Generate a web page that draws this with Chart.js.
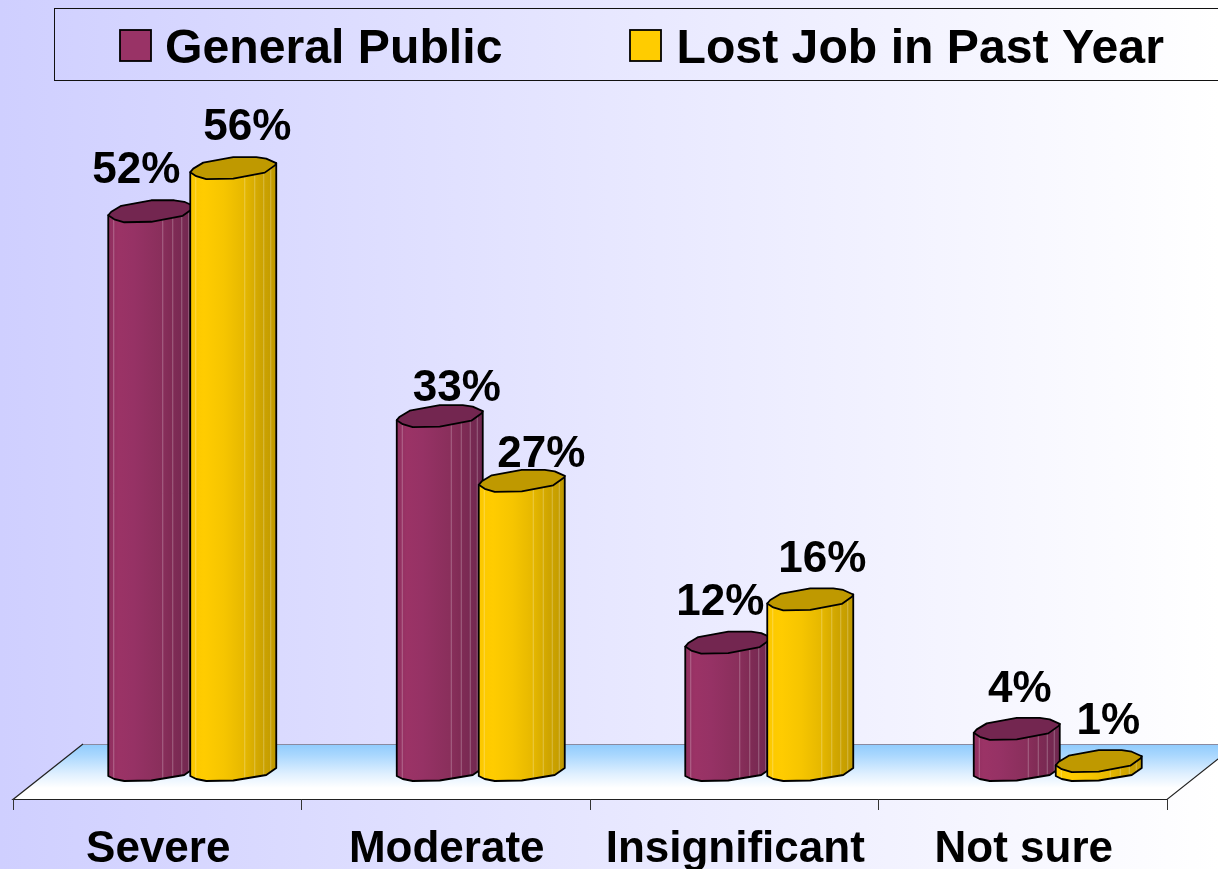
<!DOCTYPE html>
<html>
<head>
<meta charset="utf-8">
<style>html,body{margin:0;padding:0;background:#fff;overflow:hidden}canvas{display:block}</style>
<script src="https://cdn.jsdelivr.net/npm/chart.js@4"></script>
</head>
<body>
<canvas id="c" width="1218" height="869"></canvas>
<script>
const categories = ['Severe', 'Moderate', 'Insignificant', 'Not sure'];
const generalPublic = [52, 33, 12, 4];
const lostJob = [56, 27, 16, 1];
const seriesNames = ['General Public', 'Lost Job in Past Year'];

const FONT = '"Liberation Sans", Arial, sans-serif';
const SHIFT = 33; // perspective offset of the axis relative to the bars

const shades = [
  {body: [[0,'#8f2f5f'],[10,'#9b3366'],[26,'#963265'],[52,'#8a2f5c'],[64,'#802b55'],[86,'#6f2850']], cap: '#732650'},
  {body: [[0,'#fbc800'],[14,'#ffcc00'],[34,'#f6c500'],[54,'#e6b800'],[70,'#cfa500'],[86,'#bf9900']], cap: '#bf9900'}
];
const legendSwatches = ['#993366', '#ffcc00'];
const labelNudge = [
  [[-15,-28],[17,-15],[-8,-28],[3,-27]],
  [[14,-28],[19.5,-14],[12,-27],[9.5,-27]]
];
const seams = [5, 54, 64, 73, 80];
const topArc = [[0,4],[3,0.5],[13,-5.5],[43,-11],[66,-11],[76,-9.5],[86,-5]];
const lowArc = [[86,-5],[85,-3],[74.5,4.5],[43,10.5],[16,11],[6,8],[0,4]];
const baseArc = [[86,-4],[76,3],[43,8.5],[16,9],[6,7],[0,4]];

function trace(path, pts, x, y, first) {
  pts.forEach((p, i) => {
    if (i === 0 && first) path.moveTo(x + p[0], y + p[1]);
    else path.lineTo(x + p[0], y + p[1]);
  });
}

function drawCylinder(ctx, left, V, zero, shade) {
  const w = 86;
  ctx.save();
  const body = new Path2D();
  body.moveTo(left, V + 4);
  body.lineTo(left + w, V - 5);
  trace(body, baseArc, left, zero, false);
  body.closePath();
  ctx.save();
  ctx.clip(body);
  const g = ctx.createLinearGradient(left, 0, left + w, 0);
  shade.body.forEach(s => g.addColorStop(s[0] / w, s[1]));
  ctx.fillStyle = g;
  ctx.fillRect(left, V - 20, w, zero - V + 40);
  ctx.strokeStyle = 'rgba(255,255,255,0.28)';
  ctx.lineWidth = 1;
  seams.forEach(s => {
    ctx.beginPath();
    ctx.moveTo(left + s + 0.5, V - 20);
    ctx.lineTo(left + s + 0.5, zero + 20);
    ctx.stroke();
  });
  ctx.restore();
  ctx.strokeStyle = '#000';
  ctx.lineWidth = 1.8;
  ctx.lineJoin = 'round';
  ctx.stroke(body);
  const cap = new Path2D();
  trace(cap, topArc, left, V, true);
  trace(cap, lowArc, left, V, false);
  cap.closePath();
  ctx.fillStyle = shade.cap;
  ctx.fill(cap);
  ctx.stroke(cap);
  ctx.restore();
}

const scenePlugin = {
  id: 'scene',
  beforeDraw(chart) {
    const ctx = chart.ctx;
    const g = ctx.createLinearGradient(0, 0, chart.width, 0);
    g.addColorStop(0, '#cfcfff');
    g.addColorStop(1, '#ffffff');
    ctx.save();
    ctx.fillStyle = g;
    ctx.fillRect(0, 0, chart.width, chart.height);
    ctx.restore();
  },
  beforeDatasetsDraw(chart) {
    const ctx = chart.ctx, xs = chart.scales.x, ys = chart.scales.y;
    const zero = ys.getPixelForValue(0);
    const step = xs.getPixelForTick(1) - xs.getPixelForTick(0);
    const x0 = xs.getPixelForTick(0) - step / 2 - SHIFT;
    const x1 = x0 + step * categories.length;
    const front = zero + 27, back = zero - 28, depth = 70;

    // floor
    ctx.save();
    const fg = ctx.createLinearGradient(0, back, 0, front);
    fg.addColorStop(0, '#8fcbfd');
    fg.addColorStop(0.2, '#a9d7fe');
    fg.addColorStop(0.55, '#e0f0ff');
    fg.addColorStop(0.8, '#ffffff');
    fg.addColorStop(1, '#ffffff');
    ctx.beginPath();
    ctx.moveTo(x0, front);
    ctx.lineTo(x0 + depth, back);
    ctx.lineTo(x1 + depth, back);
    ctx.lineTo(x1, front);
    ctx.closePath();
    ctx.fillStyle = fg;
    ctx.fill();
    ctx.strokeStyle = '#8a8aa0';
    ctx.lineWidth = 1;
    ctx.beginPath();
    ctx.moveTo(x0 + depth, back + 0.5);
    ctx.lineTo(x1 + depth, back + 0.5);
    ctx.stroke();
    ctx.strokeStyle = '#222';
    ctx.lineWidth = 1.2;
    ctx.beginPath();
    ctx.moveTo(x0 + depth, back);
    ctx.lineTo(x0, front + 0.5);
    ctx.lineTo(x1, front + 0.5);
    ctx.lineTo(x1 + depth, back);
    ctx.stroke();
    // tick marks
    ctx.lineWidth = 1;
    ctx.strokeStyle = '#333';
    for (let i = 0; i <= categories.length; i++) {
      const tx = Math.floor(x0 + step * i) + 0.5;
      ctx.beginPath();
      ctx.moveTo(tx, front);
      ctx.lineTo(tx, front + 11);
      ctx.stroke();
    }
    ctx.restore();

    // legend
    ctx.save();
    ctx.strokeStyle = '#111';
    ctx.lineWidth = 1;
    ctx.strokeRect(54.5, 8.5, 1300, 72);
    const swatchX = [120, 630], textX = [165, 676.5];
    chart.data.datasets.forEach((d, i) => {
      ctx.fillStyle = legendSwatches[i];
      ctx.fillRect(swatchX[i], 30, 31, 31);
      ctx.strokeStyle = '#000';
      ctx.lineWidth = 1.8;
      ctx.strokeRect(swatchX[i], 30, 31, 31);
      ctx.fillStyle = '#000';
      ctx.font = 'bold 48.2px ' + FONT;
      ctx.textAlign = 'left';
      ctx.textBaseline = 'alphabetic';
      ctx.fillText(d.label, textX[i], 63);
    });
    ctx.restore();

    // bars, then value labels
    chart.data.datasets.forEach((d, di) => {
      chart.getDatasetMeta(di).data.forEach(el => {
        drawCylinder(ctx, el.x - el.width / 2, el.y, zero, shades[di]);
      });
    });
    ctx.save();
    ctx.fillStyle = '#000';
    ctx.font = 'bold 44px ' + FONT;
    ctx.textAlign = 'center';
    ctx.textBaseline = 'alphabetic';
    chart.data.datasets.forEach((d, di) => {
      chart.getDatasetMeta(di).data.forEach((el, i) => {
        const n = labelNudge[di][i];
        ctx.fillText(d.data[i] + '%', el.x - el.width / 2 + 43 + n[0], el.y + n[1]);
      });
    });
    ctx.restore();
    return false;
  }
};

new Chart(document.getElementById('c'), {
  type: 'bar',
  data: {
    labels: categories,
    datasets: [
      {label: seriesNames[0], data: generalPublic, backgroundColor: '#993366', borderColor: '#000', barThickness: 82},
      {label: seriesNames[1], data: lostJob, backgroundColor: '#ffcc00', borderColor: '#000', barThickness: 82}
    ]
  },
  options: {
    responsive: false,
    animation: false,
    events: [],
    layout: {padding: {left: 46, right: 18, top: 125, bottom: 0}},
    plugins: {legend: {display: false}, tooltip: {enabled: false}, title: {display: false}},
    scales: {
      x: {
        grid: {display: false},
        border: {display: false},
        afterFit: s => { s.height = 97; },
        ticks: {
          color: '#000',
          font: {family: FONT, size: 44, weight: 'bold'},
          padding: 43,
          labelOffset: -32,
          maxRotation: 0,
          autoSkip: false
        }
      },
      y: {display: false, min: 0, max: 60}
    }
  },
  plugins: [scenePlugin]
});
</script>
</body>
</html>
